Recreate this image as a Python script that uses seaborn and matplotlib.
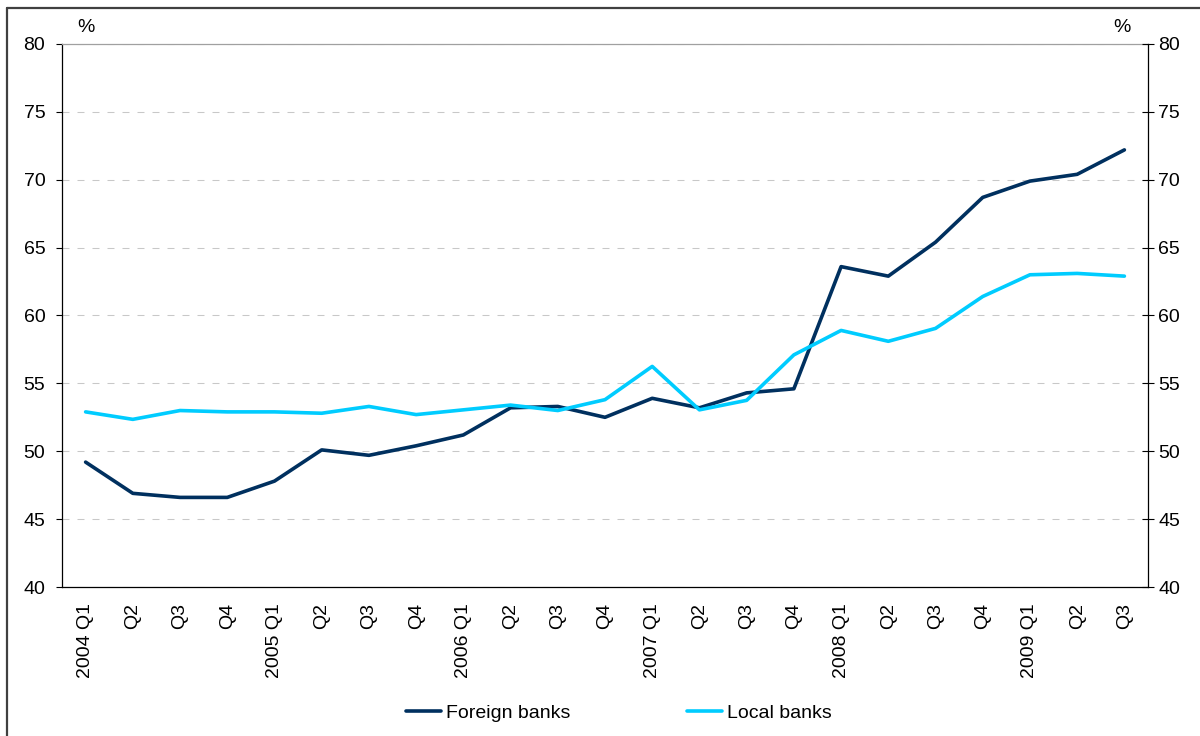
import matplotlib
matplotlib.use("Agg")
import matplotlib.pyplot as plt
import numpy as np
import pandas as pd
import seaborn as sns
from matplotlib.lines import Line2D

# quarterly share, %
quarters = ["2004 Q1", "Q2", "Q3", "Q4",
            "2005 Q1", "Q2", "Q3", "Q4",
            "2006 Q1", "Q2", "Q3", "Q4",
            "2007 Q1", "Q2", "Q3", "Q4",
            "2008 Q1", "Q2", "Q3", "Q4",
            "2009 Q1", "Q2", "Q3"]
foreign_banks = [49.2, 46.9, 46.6, 46.6, 47.8, 50.1, 49.7, 50.4, 51.2, 53.2, 53.3, 52.5,
                 53.9, 53.2, 54.3, 54.6, 63.6, 62.9, 65.4, 68.7, 69.9, 70.4, 72.2]
local_banks = [52.9, 52.35, 53.0, 52.9, 52.9, 52.8, 53.3, 52.7, 53.05, 53.4, 53.0, 53.8,
               56.25, 53.05, 53.75, 57.1, 58.9, 58.1, 59.05, 61.4, 63.0, 63.1, 62.9]
y_ticks = [40, 45, 50, 55, 60, 65, 70, 75, 80]

colors = {"Foreign banks": "#00305F", "Local banks": "#00CCFF"}

sns.set_style("white")
plt.rcParams['font.family'] = ['Liberation Sans', 'DejaVu Sans']
plt.rcParams['font.size'] = 14
plt.rcParams['text.color'] = 'black'
plt.rcParams['xtick.color'] = 'black'
plt.rcParams['ytick.color'] = 'black'

FS = 14
W, H = 1200, 736
fig = plt.figure(figsize=(W / 100, H / 100), dpi=100)
ax = fig.add_axes([62 / W, (H - 587) / H, (1148 - 62) / W, (587 - 44) / H])

df = pd.DataFrame({"idx": np.arange(len(quarters)),
                   "Foreign banks": foreign_banks,
                   "Local banks": local_banks})
long_df = df.melt(id_vars="idx", var_name="series", value_name="share")
sns.lineplot(data=long_df, x="idx", y="share", hue="series", palette=colors,
             linewidth=2.6, ax=ax, legend=False)

ax.set_xlim(-0.5, len(quarters) - 0.5)
ax.set_ylim(40, 80)
ax.set_yticks(y_ticks)
ax.set_xlabel("")
ax.set_ylabel("")
ax.yaxis.grid(True, color="#C8C8C8", linestyle=(0, (6.7, 7.7)), linewidth=0.75)
ax.xaxis.grid(False)
ax.set_axisbelow(True)

# ticks on category boundaries, labels at the centres
ax.set_xticks(np.arange(-0.5, len(quarters), 1))
ax.set_xticklabels([])
ax.set_xticks(np.arange(len(quarters)), minor=True)
ax.set_xticklabels(quarters, minor=True, rotation=90)
ax.tick_params(axis="x", which="major", direction="out", length=4.5, width=0.8, color="black")
ax.tick_params(axis="x", which="minor", length=0, pad=11.5, labelsize=FS)
ax.tick_params(axis="y", direction="out", length=4.5, width=0.8, color="black", pad=7.5,
               left=True, labelsize=FS)

for side in ["left", "bottom"]:
    ax.spines[side].set_color("black")
    ax.spines[side].set_linewidth(0.9)
ax.spines["top"].set_color("#A0A0A0")
ax.spines["top"].set_linewidth(0.9)
ax.spines["right"].set_visible(False)

ax2 = ax.twinx()
ax2.set_ylim(40, 80)
ax2.set_yticks(y_ticks)
ax2.tick_params(axis="y", direction="inout", length=9, width=0.8, color="black", pad=3,
                right=True, labelsize=FS)
for side in ["left", "top", "bottom"]:
    ax2.spines[side].set_visible(False)
ax2.spines["right"].set_color("black")
ax2.spines["right"].set_linewidth(0.9)

fig.text(86 / W, 1 - 27 / H, "%", ha="center", va="center", fontsize=FS)
fig.text(1122 / W, 1 - 27 / H, "%", ha="center", va="center", fontsize=FS)

handles = [Line2D([], [], color=colors[k], linewidth=2.6) for k in colors]
fig.legend(handles, list(colors.keys()), loc="center", bbox_to_anchor=(619 / W, 1 - 713 / H),
           ncol=2, frameon=False, handlelength=1.8, handletextpad=0.26, columnspacing=6.0,
           fontsize=FS)

# outer frame (left and top edges only visible)
fig.add_artist(Line2D([7 / W, 7 / W], [0, 1 - 8 / H], transform=fig.transFigure,
                      color="#404040", linewidth=1.6))
fig.add_artist(Line2D([7 / W, 1], [1 - 8 / H, 1 - 8 / H], transform=fig.transFigure,
                      color="#404040", linewidth=1.6))

plt.savefig("out.png", dpi=100)
